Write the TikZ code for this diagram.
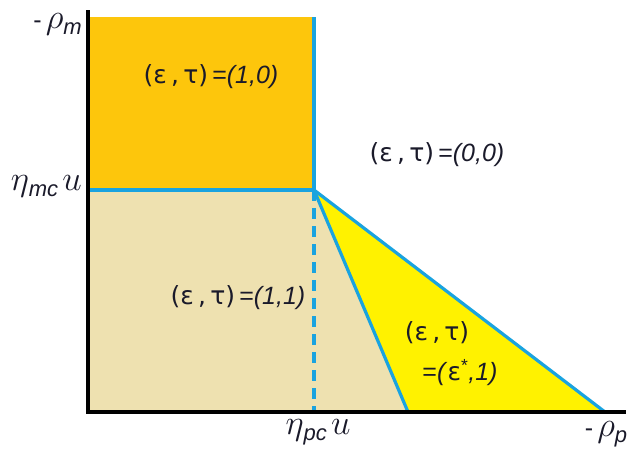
\documentclass[tikz,border=0pt]{standalone}
\usepackage{graphicx}
\usepackage{fontspec}
\setmainfont{Liberation Sans}
\newfontfamily\grk{DejaVu Sans}
\definecolor{orng}{HTML}{FDC60C}
\definecolor{tanc}{HTML}{EEE1B0}
\definecolor{yel}{HTML}{FFF200}
\definecolor{bluel}{HTML}{1AA3DF}
\definecolor{txt}{HTML}{1A1A2A}
\newcommand{\et}{{\grk(ε\,,\,τ)}}
\newcommand{\lgsym}[1]{\scalebox{1.4}{$#1$}}
\newcommand{\lowsub}[1]{\raisebox{-0.45ex}{\fontsize{22}{24}\selectfont\textit{#1}}}
\begin{document}
\begin{tikzpicture}[x=1pt,y=-1pt,
  lab/.style={text=txt,font=\fontsize{25}{28}\selectfont,inner sep=0pt},
  bl/.style={draw=bluel,line width=3.2pt},
  ax/.style={draw=black,line width=3.6pt}]
\useasboundingbox (0,0) rectangle (638,453);
\coordinate (O) at (88,412);
\coordinate (Ytop) at (88,10);
\coordinate (Xend) at (626,412);
\coordinate (TL) at (88,17);
\coordinate (TR) at (314,17);
\coordinate (C) at (314,190);
\coordinate (L) at (88,190);
\coordinate (B) at (314,412);
\coordinate (S) at (408,412);
\coordinate (P) at (605,412);
% fills
\fill[orng] (TL) rectangle (C);
\fill[tanc] (L) -- (C) -- (S) -- (O) -- cycle;
\fill[yel] (C) -- (S) -- (P) -- cycle;
% blue lines
\draw[bl] (TR) -- (C) -- (L);
\draw[bl] (C) -- (S);
\draw[bl] (C) -- (P);
\draw[bl,dash pattern=on 11pt off 7pt] (C) -- (B);
% axes
\draw[ax] (Ytop) -- (O) -- (Xend);
% labels
\node[lab,anchor=east] (rm) at (82,24) {-\,\lgsym{\rho}\lowsub{m}};
\node[lab,anchor=east] (emc) at (82,186) {\lgsym{\eta}\lowsub{mc}\,\lgsym{u}};
\node[lab] (epc) at (318,432) {\lgsym{\eta}\lowsub{pc}\,\lgsym{u}};
\node[lab] (rp) at (606,434) {-\,\lgsym{\rho}\lowsub{p}};
\node[lab] (r10) at (211,77) {\et\,=\textit{(1,0)}};
\node[lab] (r00) at (437,155) {\et\,=\textit{(0,0)}};
\node[lab] (r11) at (238,298) {\et\,=\textit{(1,1)}};
\node[lab] (rs1) at (437,333) {\et};
\node[lab] (rs2) at (460,373) {=\textit{(}{\grk ε}\textsuperscript{*}\textit{,1)}};
\end{tikzpicture}
\end{document}
